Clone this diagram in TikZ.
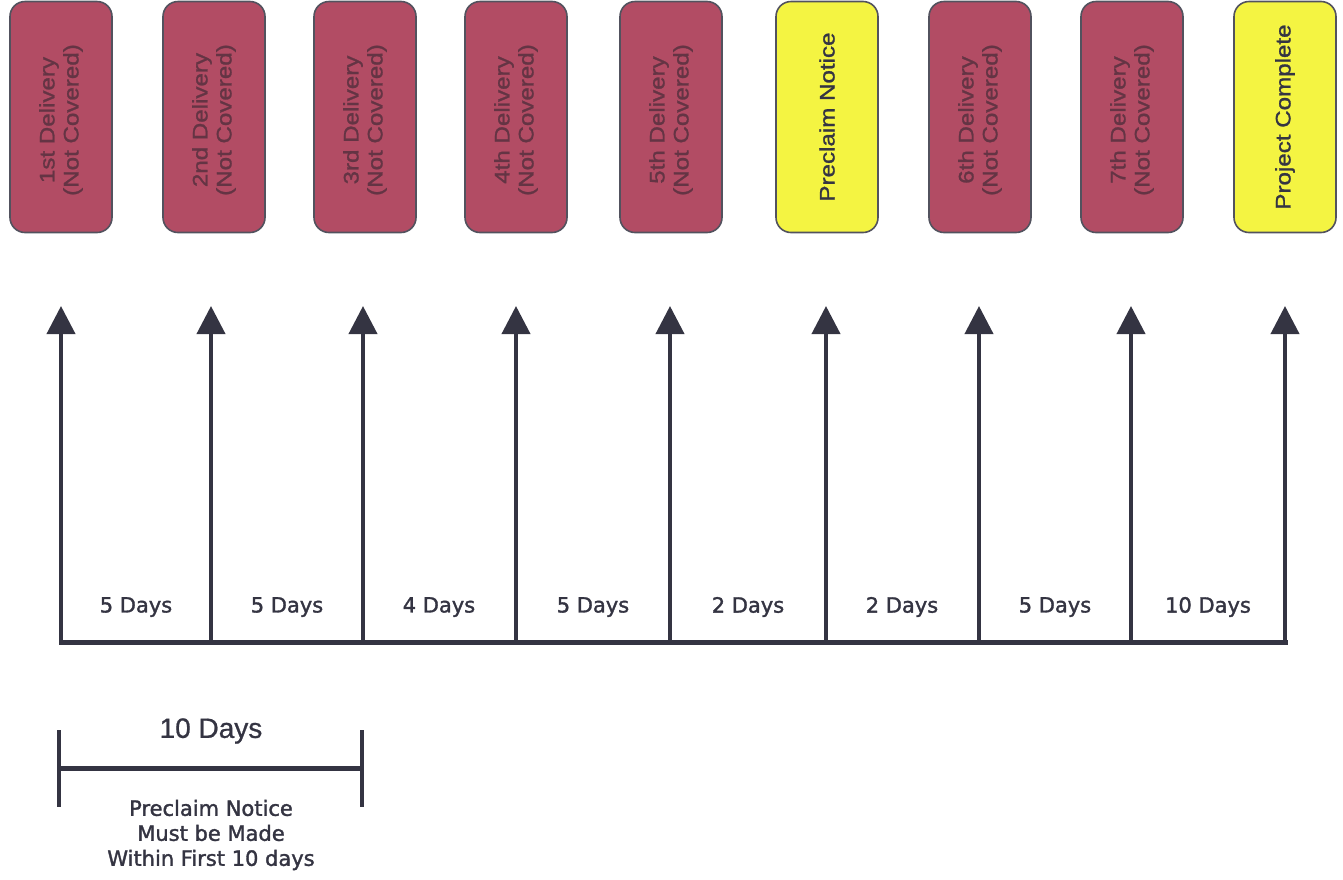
\documentclass[tikz,border=0pt]{standalone}
\usepackage{fontspec}
\setmainfont[FakeBold=1.6]{DejaVu Sans}
\newfontfamily\boxfont[FakeStretch=1.15,FakeBold=1.2]{Liberation Sans}
\newfontfamily\arialfont[FakeBold=0.8]{Liberation Sans}
\usetikzlibrary{arrows.meta}
\definecolor{maroon}{RGB}{178,76,100}
\definecolor{maroontext}{RGB}{100,52,68}
\definecolor{yell}{RGB}{244,244,66}
\definecolor{ink}{RGB}{52,52,66}
\tikzset{
  evbox/.style={draw=ink!85, line width=1.6pt, rounded corners=15pt, minimum width=102pt, minimum height=231pt, inner sep=0pt},
  delbox/.style={evbox, fill=maroon, text=maroontext},
  notebox/.style={evbox, fill=yell, text=ink},
  boxtext/.style={rotate=90, align=center, font=\boxfont\fontsize{21}{24}\selectfont},
  upar/.style={draw=ink, line width=4pt, -{Triangle[width=28pt,length=28pt]}},
  axis/.style={draw=ink, line width=5pt, line cap=rect},
  daylbl/.style={text=ink, font=\fontsize{21}{22}\selectfont},
}
\begin{document}
\begin{tikzpicture}[x=1pt,y=-1pt]
\useasboundingbox (0,0) rectangle (1343,879);
% boxes
\node[delbox] (b1) at (61,117) {};
\node[delbox] (b2) at (214,117) {};
\node[delbox] (b3) at (365,117) {};
\node[delbox] (b4) at (516,117) {};
\node[delbox] (b5) at (671,117) {};
\node[notebox] (b6) at (827,117) {};
\node[delbox] (b7) at (980,117) {};
\node[delbox] (b8) at (1132,117) {};
\node[notebox] (b9) at (1285,117) {};
\node[boxtext, text=maroontext] (t1) at ([yshift=-3pt]b1.center) {1st Delivery\\(Not Covered)};
\node[boxtext, text=maroontext] (t2) at ([yshift=-3pt]b2.center) {2nd Delivery\\(Not Covered)};
\node[boxtext, text=maroontext] (t3) at ([yshift=-3pt]b3.center) {3rd Delivery\\(Not Covered)};
\node[boxtext, text=maroontext] (t4) at ([yshift=-3pt]b4.center) {4th Delivery\\(Not Covered)};
\node[boxtext, text=maroontext] (t5) at ([yshift=-3pt]b5.center) {5th Delivery\\(Not Covered)};
\node[boxtext, text=ink] (t6) at (b6) {Preclaim Notice};
\node[boxtext, text=maroontext] (t7) at ([yshift=-3pt]b7.center) {6th Delivery\\(Not Covered)};
\node[boxtext, text=maroontext] (t8) at ([yshift=-3pt]b8.center) {7th Delivery\\(Not Covered)};
\node[boxtext, text=ink] (t9) at (b9) {Project Complete};
% timeline points
\foreach \i/\x in {1/61,2/211,3/363,4/516,5/670,6/826,7/979,8/1131,9/1285}{
  \coordinate (a\i) at (\x,642);
  \coordinate (h\i) at (\x,306);
}
\draw[axis] (a1) -- (a9);
\foreach \i in {1,...,9}{ \draw[upar] (a\i) -- (h\i); }
% day labels
\node[daylbl] (d1) at (136,607) {5 Days};
\node[daylbl] (d2) at (287,607) {5 Days};
\node[daylbl] (d3) at (439,607) {4 Days};
\node[daylbl] (d4) at (593,607) {5 Days};
\node[daylbl] (d5) at (748,607) {2 Days};
\node[daylbl] (d6) at (902,607) {2 Days};
\node[daylbl] (d7) at (1055,607) {5 Days};
\node[daylbl] (d8) at (1208,607) {10 Days};
% bracket
\coordinate (l1) at (59,730); \coordinate (l2) at (59,807);
\coordinate (r1) at (362,730); \coordinate (r2) at (362,807);
\coordinate (lm) at (59,768); \coordinate (rm) at (362,768);
\draw[draw=ink, line width=4.5pt] (l1) -- (l2);
\draw[draw=ink, line width=4.5pt] (r1) -- (r2);
\draw[draw=ink, line width=5pt] (lm) -- (rm);
\node[text=ink, font=\arialfont\fontsize{28}{30}\selectfont] (ten) at (211,731) {10 Days};
\node[text=ink, align=center, font=\fontsize{21}{25}\selectfont] (note) at (211,835) {Preclaim Notice\\Must be Made\\Within First 10 days};
\end{tikzpicture}
\end{document}
